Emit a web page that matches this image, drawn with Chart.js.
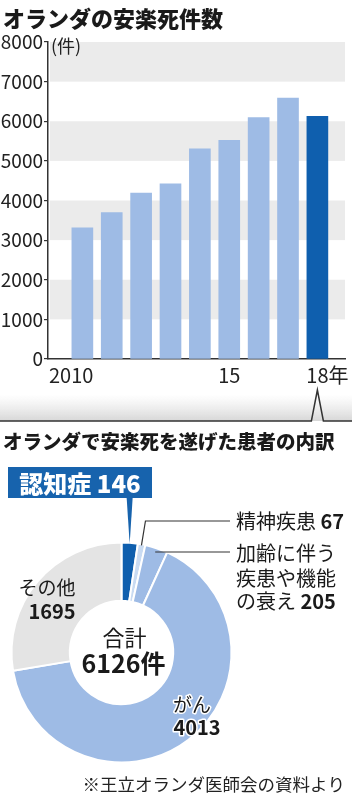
<!DOCTYPE html>
<html lang="ja">
<head>
<meta charset="utf-8">
<title>オランダの安楽死件数</title>
<script src="https://cdn.jsdelivr.net/npm/chart.js@4.4.1/dist/chart.umd.min.js"></script>
<style>
  body { margin: 0; background: #fff; }
  #wrap { position: relative; width: 352px; height: 800px; overflow: hidden; font-family: "Noto Sans CJK JP", sans-serif; color: #1a1a1a; }
  .ttl { position: absolute; left: 3px; white-space: nowrap; font-weight: 900; line-height: 1; }
  #ttl1 { top: 6px; font-size: 22px; }
  #ttl2 { top: 431px; font-size: 19.5px; }
  canvas { position: absolute; left: 0; }
  #barChart { top: 0; }
  #pieChart { top: 400px; }
</style>
</head>
<body>
<div id="wrap">
  <canvas id="barChart" width="352" height="425"></canvas>
  <canvas id="pieChart" width="352" height="400"></canvas>
  <div class="ttl" id="ttl1">オランダの安楽死件数</div>
  <div class="ttl" id="ttl2">オランダで安楽死を遂げた患者の内訳</div>
</div>
<script>
// 安楽死件数(年別)
var years = [2010, 2011, 2012, 2013, 2014, 2015, 2016, 2017, 2018];
var cases = [3310, 3695, 4188, 4420, 5306, 5516, 6091, 6585, 6126];
var yTicks = [0, 1000, 2000, 3000, 4000, 5000, 6000, 7000, 8000];
var xTickYears = [2010, 2015, 2018];
var xTickLabels = ['2010', '15', '18'];
var yUnit = '(件)';
var xUnit = '年';

// 2018年の内訳
var causes = ['認知症', '精神疾患', '加齢に伴う疾患や機能の衰え', 'がん', 'その他'];
var causeCounts = [146, 67, 205, 4013, 1695];
var totalLabel = '合計';
var totalCount = 6126;
var source = '※王立オランダ医師会の資料より';

var FONT = '"Noto Sans CJK JP"';
var lightBlue = '#9ebbe5';
var darkBlue = '#0f5fae';

var barDecor = {
  id: 'barDecor',
  beforeDatasetsDraw: function(chart) {
    var ctx = chart.ctx, a = chart.chartArea, y = chart.scales.y;
    ctx.save();
    ctx.fillStyle = '#ebebeb';
    for (var k = 1; k < yTicks.length - 1; k += 2) {
      var top = y.getPixelForValue(yTicks[k + 1]);
      var bot = y.getPixelForValue(yTicks[k]);
      ctx.fillRect(a.left + 2, top, a.right - a.left - 2, bot - top);
    }
    ctx.restore();
  },
  afterDraw: function(chart) {
    var ctx = chart.ctx, a = chart.chartArea, x = chart.scales.x;
    ctx.save();
    ctx.fillStyle = '#222';
    ctx.textBaseline = 'middle';
    ctx.textAlign = 'left';
    ctx.font = '18px ' + FONT;
    ctx.fillText(yUnit, a.left + 3, a.top + 4);

    ctx.font = '20px ' + FONT;
    var ty = a.bottom + 16;
    xTickYears.forEach(function(yr, i) {
      var px = x.getPixelForValue(yr);
      var lbl = xTickLabels[i];
      if (i === 0) {
        ctx.textAlign = 'right';
        ctx.fillText(lbl, px + 11, ty);
      } else {
        ctx.textAlign = 'center';
        ctx.fillText(lbl, px, ty);
        if (i === xTickYears.length - 1) {
          ctx.textAlign = 'left';
          ctx.fillText(xUnit, px + ctx.measureText(lbl).width / 2, ty);
        }
      }
    });

    // 区切り線(2018年を指す)
    var last = x.getPixelForValue(years[years.length - 1]);
    var lineY = 421;
    var g = ctx.createLinearGradient(0, lineY - 26, 0, lineY);
    g.addColorStop(0, 'rgba(225,225,225,0)');
    g.addColorStop(1, 'rgba(215,215,215,1)');
    ctx.fillStyle = g;
    ctx.fillRect(0, lineY - 26, chart.width, 26);
    ctx.strokeStyle = '#333';
    ctx.lineWidth = 1.5;
    ctx.beginPath();
    ctx.moveTo(0, lineY);
    ctx.lineTo(last - 6, lineY);
    ctx.lineTo(last, lineY - 31);
    ctx.lineTo(last + 6, lineY);
    ctx.lineTo(chart.width, lineY);
    ctx.stroke();
    ctx.restore();
  }
};

new Chart(document.getElementById('barChart'), {
  type: 'bar',
  data: {
    datasets: [{
      data: years.map(function(yr, i) { return { x: yr, y: cases[i] }; }),
      backgroundColor: years.map(function(yr) { return yr === 2018 ? darkBlue : lightBlue; }),
      barThickness: 21
    }]
  },
  options: {
    responsive: false,
    animation: false,
    layout: { padding: { top: 42, right: 7, left: 0, bottom: 0 } },
    plugins: { legend: { display: false }, tooltip: { enabled: false } },
    scales: {
      x: {
        type: 'linear', min: 2008.83, max: 2018.94, offset: false,
        ticks: { display: false },
        grid: { display: false },
        border: { color: '#333', width: 1.5 },
        afterFit: function(s) { s.height = 66; }
      },
      y: {
        min: 0, max: 8000,
        ticks: {
          stepSize: 1000, color: '#222', padding: 1, font: { family: FONT, size: 19 },
          callback: function(v) { return String(v); }
        },
        grid: { drawOnChartArea: false, color: '#333', tickLength: 4, lineWidth: 1.2 },
        border: { color: '#333', width: 1.5 },
        afterFit: function(s) { s.width = 48; }
      }
    }
  },
  plugins: [barDecor]
});

function edge(arc, r) {
  var m = (arc.startAngle + arc.endAngle) / 2;
  return { x: arc.x + Math.cos(m) * r, y: arc.y + Math.sin(m) * r };
}

// 通常体と太字を続けて書く
function twoPart(ctx, a, b, x, y, size) {
  ctx.textAlign = 'left';
  ctx.font = size + 'px ' + FONT;
  ctx.fillText(a, x, y);
  var w1 = ctx.measureText(a).width;
  ctx.font = 'bold ' + size + 'px ' + FONT;
  ctx.fillText(b, x + w1, y);
}

var pieDecor = {
  id: 'pieDecor',
  afterDraw: function(chart) {
    var ctx = chart.ctx, arcs = chart.getDatasetMeta(0).data;
    var c = arcs[0];
    ctx.save();
    ctx.textBaseline = 'middle';

    // 認知症のラベル
    var tip = edge(arcs[0], c.outerRadius - 1);
    var bx = 8, by = 67, bw = 144, bh = 31;
    ctx.fillStyle = '#1763ad';
    ctx.fillRect(bx, by, bw, bh);
    ctx.beginPath();
    ctx.moveTo(tip.x - 3, by + bh);
    ctx.lineTo(tip.x + 3, by + bh);
    ctx.lineTo(tip.x, tip.y);
    ctx.closePath();
    ctx.fill();
    ctx.fillStyle = '#fff';
    ctx.textAlign = 'center';
    ctx.font = '900 24px ' + FONT;
    ctx.fillText(causes[0] + ' ' + causeCounts[0], bx + bw / 2, by + bh / 2 + 1);

    // 引き出し線
    var labelX = 236;
    ctx.strokeStyle = '#333';
    ctx.lineWidth = 1.2;
    var s1 = edge(arcs[1], c.outerRadius - 1);
    ctx.beginPath();
    ctx.moveTo(s1.x, s1.y);
    ctx.lineTo(s1.x + 4, 121);
    ctx.lineTo(labelX - 6, 121);
    ctx.stroke();
    var s2 = edge(arcs[2], c.outerRadius - 4);
    ctx.beginPath();
    ctx.moveTo(s2.x, s2.y);
    ctx.lineTo(labelX - 6, 152);
    ctx.stroke();

    ctx.fillStyle = '#1a1a1a';
    twoPart(ctx, causes[1] + ' ', String(causeCounts[1]), labelX, 121, 20);
    ctx.font = '20px ' + FONT;
    ctx.fillText(causes[2].slice(0, 5), labelX, 153);
    ctx.fillText(causes[2].slice(5, 10), labelX, 178);
    twoPart(ctx, causes[2].slice(10) + ' ', String(causeCounts[2]), labelX, 201, 20);

    // その他
    ctx.textAlign = 'center';
    ctx.font = '19px ' + FONT;
    ctx.fillText(causes[4], 47, 188);
    ctx.font = 'bold 20px ' + FONT;
    ctx.fillText(String(causeCounts[4]), 52, 211);

    // がん(白ふち)
    ctx.lineJoin = 'round';
    ctx.strokeStyle = '#fff';
    ctx.lineWidth = 3;
    ctx.font = '19px ' + FONT;
    ctx.strokeText(causes[3], 192, 305);
    ctx.fillText(causes[3], 192, 305);
    ctx.font = 'bold 20px ' + FONT;
    ctx.strokeText(String(causeCounts[3]), 197, 327);
    ctx.fillText(String(causeCounts[3]), 197, 327);

    // 合計
    ctx.font = '22px ' + FONT;
    ctx.fillText(totalLabel, c.x + 3, 238);
    ctx.font = 'bold 25px ' + FONT;
    ctx.fillText(totalCount + '件', c.x + 2, 263);

    // 出典
    ctx.textAlign = 'right';
    ctx.font = '17.5px ' + FONT;
    ctx.fillStyle = '#222';
    ctx.fillText(source, 345, 384);
    ctx.restore();
  }
};

new Chart(document.getElementById('pieChart'), {
  type: 'doughnut',
  data: {
    labels: causes,
    datasets: [{
      data: causeCounts,
      backgroundColor: [darkBlue, '#c9dbf2', lightBlue, lightBlue, '#e4e4e4'],
      borderColor: '#fff',
      borderWidth: 2
    }]
  },
  options: {
    responsive: false,
    animation: false,
    cutout: '47%',
    rotation: 0,
    layout: { padding: { left: 10.5, top: 141.5, right: 119.5, bottom: 36.5 } },
    plugins: { legend: { display: false }, tooltip: { enabled: false } }
  },
  plugins: [pieDecor]
});
</script>
</body>
</html>
